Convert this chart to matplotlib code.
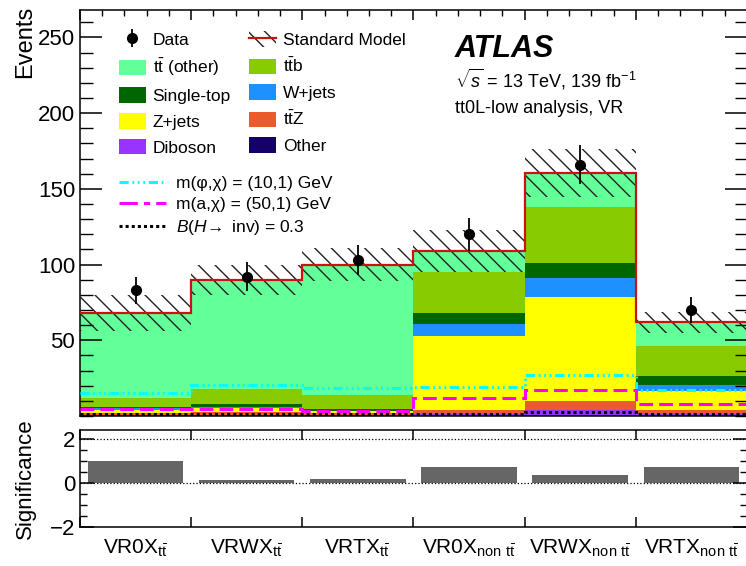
import numpy as np
import matplotlib
matplotlib.use('Agg')
import matplotlib.pyplot as plt
from matplotlib.patches import Patch
from matplotlib.lines import Line2D
from matplotlib.ticker import MultipleLocator, FixedLocator

plt.rcParams['font.family'] = ['Liberation Sans', 'DejaVu Sans']
plt.rcParams['mathtext.fontset'] = 'custom'
plt.rcParams['mathtext.rm'] = 'Liberation Sans'
plt.rcParams['mathtext.it'] = 'Liberation Sans:italic'
plt.rcParams['mathtext.bf'] = 'Liberation Sans:bold'
plt.rcParams['hatch.linewidth'] = 1.0
plt.rcParams['axes.linewidth'] = 1.1

# validation regions
regions = [r'VR0X$_{\mathrm{t\bar{t}}}$', r'VRWX$_{\mathrm{t\bar{t}}}$', r'VRTX$_{\mathrm{t\bar{t}}}$',
           r'VR0X$_{\mathrm{non\ t\bar{t}}}$', r'VRWX$_{\mathrm{non\ t\bar{t}}}$', r'VRTX$_{\mathrm{non\ t\bar{t}}}$']

# background yields
tt_other   = [56.0, 72.4, 86.1, 14.0, 22.7, 15.5]
ttb        = [6.0, 9.5, 9.5, 26.7, 36.7, 20.0]
single_top = [1.0, 2.0, 0.8, 7.3, 10.0, 6.0]
wjets      = [1.0, 1.0, 0.5, 7.8, 12.6, 4.0]
zjets      = [2.0, 2.5, 1.0, 49.0, 68.5, 12.7]
ttz        = [1.5, 2.0, 1.5, 3.0, 6.2, 2.5]
diboson    = [0.3, 0.3, 0.3, 0.7, 3.0, 1.0]
other      = [0.3, 0.3, 0.3, 0.3, 0.7, 0.3]
sm_unc     = [12, 10, 11, 14, 16, 7]

data = [83, 92, 103, 120, 166, 70]

# signals
sig_phi = [15.3, 20.7, 18.7, 19.3, 27.3, 16.9]
sig_a   = [4.7, 4.7, 3.3, 12.0, 17.3, 7.8]
sig_h   = [1.5, 1.5, 1.0, 1.5, 2.7, 1.5]

significance = [1.0, 0.15, 0.2, 0.75, 0.35, 0.75]

edges = np.arange(len(regions) + 1)
centers = edges[:-1] + 0.5

fig = plt.figure(figsize=(7.46, 5.66), dpi=100)
ax = fig.add_axes([0.1072, 0.265, 0.894, 0.717])
ax2 = fig.add_axes([0.1072, 0.069, 0.894, 0.1714])

stack = [(r'Other', other, '#140066'),
         (r'Diboson', diboson, '#9933ff'),
         (r'$\mathrm{t\bar{t}Z}$', ttz, '#ea5b2b'),
         (r'Z+jets', zjets, '#ffff00'),
         (r'W+jets', wjets, '#1e90ff'),
         (r'Single-top', single_top, '#006600'),
         (r'$\mathrm{t\bar{t}b}$', ttb, '#88cc00'),
         (r'$\mathrm{t\bar{t}}$ (other)', tt_other, '#63ff98')]

bottom = np.zeros(len(regions))
patches = {}
for name, vals, col in stack:
    ax.bar(centers, vals, 1.0, bottom=bottom, color=col, lw=0)
    patches[name] = Patch(facecolor=col, edgecolor='none')
    bottom += np.array(vals)
total = bottom
unc = np.array(sm_unc)

ax.bar(centers, 2 * unc, 1.0, bottom=total - unc, fill=False, hatch='\\\\', edgecolor='#222222', lw=0, zorder=3)
ax.stairs(total, edges, color='#cc1111', lw=1.6, baseline=None, zorder=4)

phi_ls = (0, (3, 1.2, 0.6, 1.2, 0.6, 1.2, 0.6, 1.2))
a_ls = (0, (4.5, 2))
ax.stairs(sig_phi, edges, color='#00ffff', lw=2.2, baseline=None, zorder=5, linestyle=phi_ls)
ax.stairs(sig_a, edges, color='#ff00ff', lw=2.2, baseline=None, zorder=5, linestyle=a_ls)
ax.stairs(sig_h, edges, color='black', lw=2.2, baseline=None, zorder=5, linestyle=(0, (1, 1)))

d = np.array(data)
hdata = ax.errorbar(centers, d, yerr=np.sqrt(d), fmt='o', color='black', ms=7, elinewidth=1.3, capsize=0, zorder=6)

ax.set_xlim(0, 6)
ax.set_ylim(0, 268)
ax.xaxis.set_major_locator(MultipleLocator(1))
ax.xaxis.set_minor_locator(MultipleLocator(0.2))
ax.yaxis.set_major_locator(FixedLocator([50, 100, 150, 200, 250]))
ax.yaxis.set_minor_locator(MultipleLocator(10))
ax.tick_params(axis='x', which='both', direction='in', top=True, bottom=False, labelbottom=False)
ax.tick_params(axis='x', which='major', length=7, width=1.1)
ax.tick_params(axis='x', which='minor', length=4, width=1.0)
ax.tick_params(axis='y', which='both', direction='in', left=True, right=True, labelsize=16)
ax.tick_params(axis='y', which='major', length=16, width=1.1)
ax.tick_params(axis='y', which='minor', length=9, width=1.0)
ax.set_ylabel('Events', loc='top', fontsize=17)
ax.yaxis.set_label_coords(-0.066, 1.01)

# legend
sm_handle = (Patch(facecolor='white', edgecolor='#222222', hatch='\\\\', lw=0), Line2D([], [], color='#cc1111', lw=1.6))
handles = [hdata, patches[r'$\mathrm{t\bar{t}}$ (other)'], patches['Single-top'], patches['Z+jets'], patches['Diboson'],
           sm_handle, patches[r'$\mathrm{t\bar{t}b}$'], patches['W+jets'], patches[r'$\mathrm{t\bar{t}Z}$'], patches['Other']]
labels = ['Data', r'$\mathrm{t\bar{t}}$ (other)', 'Single-top', 'Z+jets', 'Diboson',
          'Standard Model', r'$\mathrm{t\bar{t}b}$', 'W+jets', r'$\mathrm{t\bar{t}Z}$', 'Other']
leg1 = ax.legend(handles, labels, ncol=2, loc='upper left', bbox_to_anchor=(0.058, 0.948), frameon=False,
                 fontsize=12.5, handlelength=1.55, handleheight=1.0, handletextpad=0.4, labelspacing=0.52,
                 columnspacing=1.05, borderpad=0, borderaxespad=0)
ax.add_artist(leg1)

sig_handles = [Line2D([], [], color='#00ffff', lw=2.2, linestyle=phi_ls),
               Line2D([], [], color='#ff00ff', lw=2.2, linestyle=(0, (6, 2, 2, 2))),
               Line2D([], [], color='black', lw=2.2, linestyle=(0, (1, 1)))]
sig_labels = ['m(φ,χ) = (10,1) GeV', 'm(a,χ) = (50,1) GeV', r'$B(H\!\rightarrow$ inv) = 0.3']
ax.legend(sig_handles, sig_labels, loc='upper left', bbox_to_anchor=(0.058, 0.592), frameon=False,
          fontsize=12.5, handlelength=2.7, handletextpad=0.6, labelspacing=0.35, borderpad=0, borderaxespad=0)

ax.text(0.562, 0.884, 'ATLAS', transform=ax.transAxes, fontsize=22, fontweight='bold', fontstyle='italic')
ax.text(0.562, 0.81, r'$\sqrt{s}$ = 13 TeV, 139 fb$^{-1}$', transform=ax.transAxes, fontsize=13)
ax.text(0.562, 0.746, 'tt0L-low analysis, VR', transform=ax.transAxes, fontsize=13)

# significance panel
ax2.bar(centers, significance, 0.86, color='#666666', lw=0)
for yv in (2, 0):
    ax2.axhline(yv, ls=':', color='black', lw=0.9)
ax2.set_xlim(0, 6)
ax2.set_ylim(-2, 2.42)
ax2.set_yticks([-2, 0, 2])
ax2.yaxis.set_minor_locator(MultipleLocator(0.5))
ax2.set_xticks(edges)
ax2.set_xticklabels([])
ax2.set_xticks(centers, minor=True)
ax2.set_xticklabels(regions, minor=True)
ax2.tick_params(axis='x', which='major', direction='in', top=True, bottom=True, length=7, width=1.1)
ax2.tick_params(axis='x', which='minor', length=0, pad=8, labelsize=15)
ax2.tick_params(axis='y', which='both', direction='in', left=True, right=True, labelsize=16)
ax2.tick_params(axis='y', which='major', length=10, width=1.1)
ax2.tick_params(axis='y', which='minor', length=5, width=1.0)
ax2.set_ylabel('Significance', fontsize=16)
ax2.yaxis.set_label_coords(-0.066, 0.5)

fig.savefig('out.png', dpi=100)
